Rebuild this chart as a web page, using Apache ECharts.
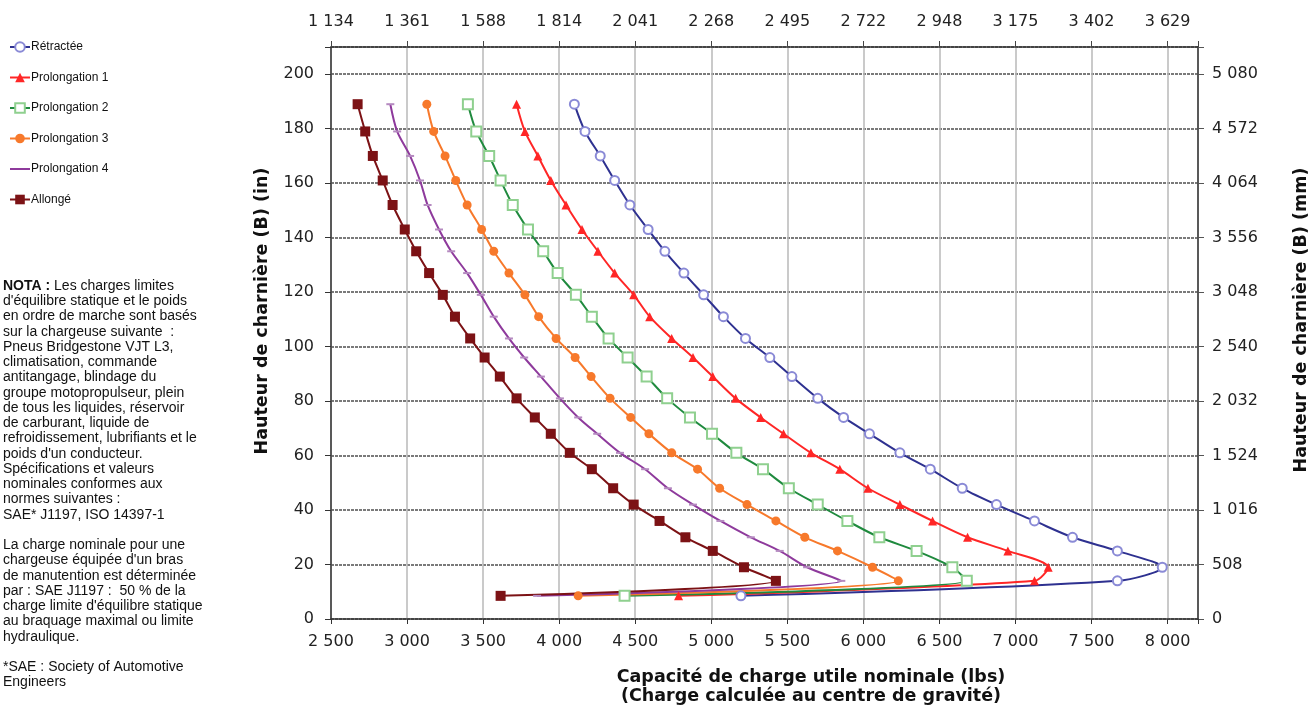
<!DOCTYPE html>
<html>
<head>
<meta charset="utf-8">
<script src="https://cdn.jsdelivr.net/npm/echarts@6/dist/echarts.min.js"></script>
<style>
  html, body { margin: 0; padding: 0; background: #fff; }
  #main { width: 1314px; height: 709px; }
</style>
</head>
<body>
<div id="main"></div>
<script>
// hinge heights (in), shared by every configuration
var heights = [189, 179, 170, 161, 152, 143, 135, 127, 119, 111, 103, 96, 89, 81, 74, 68, 61, 55, 48, 42, 36, 30, 25, 19, 14, 8.5];

// rated capacity (lbs), one per height
var retractee = [4100, 4170, 4270, 4365, 4465, 4585, 4695, 4820, 4950, 5080, 5225, 5385, 5530, 5700, 5870, 6040, 6240, 6440, 6650, 6875, 7125, 7375, 7670, 7965, 7670, 5195];
var prolongation1 = [3720, 3775, 3860, 3945, 4045, 4150, 4255, 4365, 4490, 4595, 4740, 4880, 5010, 5160, 5325, 5475, 5655, 5845, 6030, 6240, 6455, 6685, 6950, 7215, 7125, 4785];
var prolongation2 = [3400, 3455, 3540, 3615, 3695, 3795, 3895, 3990, 4110, 4215, 4325, 4450, 4575, 4710, 4860, 5005, 5165, 5340, 5510, 5700, 5895, 6105, 6350, 6585, 6680, 4430];
var prolongation3 = [3130, 3175, 3250, 3320, 3395, 3490, 3570, 3670, 3775, 3865, 3980, 4105, 4210, 4335, 4470, 4590, 4740, 4910, 5055, 5235, 5425, 5615, 5830, 6060, 6230, 4125];
var prolongation4 = [2890, 2935, 3020, 3085, 3135, 3210, 3290, 3395, 3485, 3570, 3670, 3770, 3880, 4005, 4125, 4250, 4400, 4565, 4715, 4880, 5060, 5260, 5450, 5630, 5855, 3855];
var allonge = [2675, 2725, 2775, 2840, 2905, 2985, 3060, 3145, 3235, 3315, 3415, 3510, 3610, 3720, 3840, 3945, 4070, 4215, 4355, 4490, 4660, 4830, 5010, 5215, 5425, 3615];

// secondary axis tick labels
var kgLabels = ['1 134', '1 361', '1 588', '1 814', '2 041', '2 268', '2 495', '2 722', '2 948', '3 175', '3 402', '3 629'];
var mmLabels = ['0', '508', '1 016', '1 524', '2 032', '2 540', '3 048', '3 556', '4 064', '4 572', '5 080'];

var noteLines = [
  '{b|NOTA :}{n| Les charges limites}',
  "{n|d'équilibre statique et le poids}",
  '{n|en ordre de marche sont basés}',
  '{n|sur la chargeuse suivante  :}',
  '{n|Pneus Bridgestone VJT L3,}',
  '{n|climatisation, commande}',
  '{n|antitangage, blindage du}',
  '{n|groupe motopropulseur, plein}',
  '{n|de tous les liquides, réservoir}',
  '{n|de carburant, liquide de}',
  '{n|refroidissement, lubrifiants et le}',
  "{n|poids d'un conducteur.}",
  '{n|Spécifications et valeurs}',
  '{n|nominales conformes aux}',
  '{n|normes suivantes :}',
  '{n|SAE* J1197, ISO 14397-1}',
  '{n| }',
  '{n|La charge nominale pour une}',
  "{n|chargeuse équipée d'un bras}",
  '{n|de manutention est déterminée}',
  '{n|par : SAE J1197 :  50 % de la}',
  "{n|charge limite d'équilibre statique}",
  '{n|au braquage maximal ou limite}',
  '{n|hydraulique.}',
  '{n| }',
  '{n|*SAE : Society of Automotive}',
  '{n|Engineers}'
];

function pairs(xs) {
  return xs.map(function (x, i) { return [x, heights[i]]; });
}
function spaced(v) {
  return String(v).replace(/\B(?=(\d{3})+(?!\d))/g, ' ');
}

var sans = 'Liberation Sans, Arial, sans-serif';
var wide = 'DejaVu Sans, sans-serif';
var chart = echarts.init(document.getElementById('main'));

function line(name, data, color, symbol, size, markColor, empty) {
  return {
    name: name,
    type: 'line',
    data: pairs(data),
    smooth: 0.3,
    symbol: symbol,
    symbolSize: size,
    showAllSymbol: true,
    lineStyle: { color: color, width: 2 },
    itemStyle: { color: markColor || color, borderColor: markColor || color, borderWidth: empty ? 1.2 : 0 },
    emphasis: { disabled: true }
  };
}

var axisLabelStyle = { fontSize: 16, color: '#222', fontFamily: wide };

var option = {
  animation: false,
  textStyle: { fontFamily: sans },
  legend: {
    orient: 'vertical',
    left: 4,
    top: 36,
    itemWidth: 20,
    itemHeight: 12,
    itemGap: 18.5,
    textStyle: { fontSize: 12, color: '#111', fontFamily: sans, padding: [0, 0, 0, -4] },
    data: [
      'Rétractée', 'Prolongation 1', 'Prolongation 2', 'Prolongation 3',
      { name: 'Prolongation 4', icon: 'path://M0,0H0.01V0.01H0Z M0,5H20V7H0Z M19.99,12H20V11.99H19.99Z', itemStyle: { color: '#8e3a9c' } },
      'Allongé'
    ]
  },
  grid: { left: 331, right: 116, top: 47, bottom: 90, containLabel: false },
  xAxis: [
    {
      type: 'value', position: 'bottom', min: 2500, max: 8200, interval: 500,
      axisLine: { show: true, lineStyle: { color: '#333', width: 1.5 } },
      axisTick: { show: true, length: 5, lineStyle: { color: '#333' } },
      axisLabel: Object.assign({}, axisLabelStyle, {
        margin: 15,
        formatter: function (v) { return (v % 500 === 0 && v <= 8000) ? spaced(v) : ''; }
      }),
      splitLine: { show: true, lineStyle: { color: '#b8b8b8', width: 1.5 } }
    },
    {
      type: 'value', position: 'top', min: 2500, max: 8200, interval: 500,
      axisLine: { show: true, onZero: false, lineStyle: { color: '#333', width: 1.5 } },
      axisTick: { show: true, inside: false, length: 6, lineStyle: { color: '#444' } },
      axisLabel: Object.assign({}, axisLabelStyle, {
        margin: 17,
        formatter: function (v) { var k = (v - 2500) / 500; return kgLabels[k] || ''; }
      }),
      splitLine: { show: false }
    }
  ],
  yAxis: [
    {
      type: 'value', position: 'left', min: 0, max: 210, interval: 20,
      axisLine: { show: true, lineStyle: { color: '#333', width: 1.5 } },
      axisTick: { show: true, length: 6, lineStyle: { color: '#333' } },
      axisLabel: Object.assign({}, axisLabelStyle, {
        margin: 17,
        formatter: function (v) { return v <= 200 ? String(v) : ''; }
      }),
      splitLine: { show: true, lineStyle: { color: '#7a7a7a', width: 2, type: [3, 1] } }
    },
    {
      type: 'value', position: 'right', min: 0, max: 210, interval: 20,
      axisLine: { show: true, onZero: false, lineStyle: { color: '#333', width: 1.5 } },
      axisTick: { show: true, length: 6, lineStyle: { color: '#555' } },
      axisLabel: Object.assign({}, axisLabelStyle, {
        margin: 14,
        formatter: function (v) { return mmLabels[v / 20] || ''; }
      }),
      splitLine: { show: false }
    }
  ],
  graphic: [
    {
      type: 'text', left: 3, top: 279,
      style: {
        text: noteLines.join('\n'),
        fill: '#111',
        rich: {
          b: { fontWeight: 'bold', fontSize: 14, fontFamily: sans, lineHeight: 15.25, fill: '#111' },
          n: { fontSize: 14, fontFamily: sans, lineHeight: 15.25, fill: '#111' }
        }
      }
    },
    {
      type: 'text', x: 262, y: 311, rotation: Math.PI / 2,
      style: { text: 'Hauteur de charnière (B) (in)', font: 'bold 17.5px ' + wide, fill: '#111', align: 'center', verticalAlign: 'middle' }
    },
    {
      type: 'text', x: 1301, y: 320, rotation: Math.PI / 2,
      style: { text: 'Hauteur de charnière (B) (mm)', font: 'bold 17.5px ' + wide, fill: '#111', align: 'center', verticalAlign: 'middle' }
    },
    {
      type: 'text', x: 811, y: 687,
      style: {
        text: 'Capacité de charge utile nominale (lbs)\n(Charge calculée au centre de gravité)',
        font: 'bold 17.5px ' + wide, fill: '#111', align: 'center', verticalAlign: 'middle', lineHeight: 19
      }
    }
  ],
  series: [
    line('Rétractée', retractee, '#2e3190', 'emptyCircle', 9, '#8a8ad6', true),
    line('Prolongation 1', prolongation1, '#ff2626', 'triangle', 9),
    line('Prolongation 2', prolongation2, '#1f8a3e', 'emptyRect', 10, '#8fd08f', true),
    line('Prolongation 3', prolongation3, '#f7792b', 'circle', 9),
    line('Prolongation 4', prolongation4, '#8e3a9c', 'path://M0,0H10V2H0Z', [8, 2], '#b58ac0'),
    line('Allongé', allonge, '#7c1215', 'rect', 10)
  ]
};

chart.setOption(option);
</script>
</body>
</html>
